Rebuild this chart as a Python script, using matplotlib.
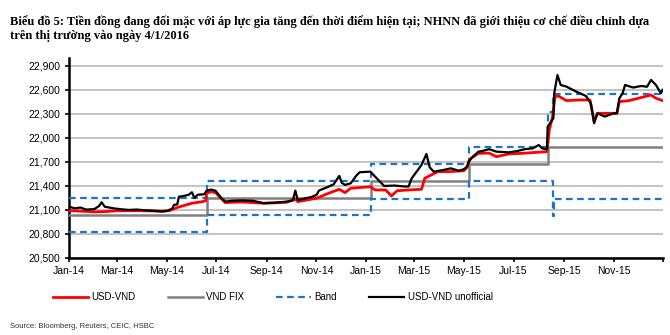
import pandas as pd
import matplotlib.pyplot as plt
from matplotlib.ticker import FuncFormatter

plt.rcParams["font.family"] = ["Liberation Sans", "DejaVu Sans"]

# 1: data

fix_dates = ['2014-01-01', '2014-06-19', '2015-01-07', '2015-05-07', '2015-08-12', '2015-12-31']
fix_values = [21036, 21246, 21458, 21673, 21890, 21890]

band_up_dates = ['2014-01-01', '2014-06-19', '2015-01-07', '2015-05-07', '2015-08-12', '2015-08-19', '2015-12-31']
band_up_values = [21246, 21458, 21673, 21890, 22328, 22547, 22547]

band_lo_dates = ['2014-01-01', '2014-06-19', '2015-01-07', '2015-05-07', '2015-08-19', '2015-08-20', '2015-12-31']
band_lo_values = [20826, 21034, 21243, 21456, 21030, 21233, 21233]

usd_vnd_dates = ['2014-01-01', '2014-01-15', '2014-02-01', '2014-02-15', '2014-03-01', '2014-04-01',
                 '2014-04-25', '2014-05-04', '2014-05-15', '2014-06-01', '2014-06-14', '2014-06-18',
                 '2014-06-19', '2014-06-25', '2014-06-30', '2014-07-12', '2014-08-01', '2014-08-28',
                 '2014-09-25', '2014-10-06', '2014-10-09', '2014-11-01', '2014-11-16', '2014-11-29',
                 '2014-12-06', '2014-12-13', '2015-01-06', '2015-01-12', '2015-01-25', '2015-02-01',
                 '2015-02-08', '2015-02-22', '2015-03-10', '2015-03-14', '2015-03-30', '2015-04-15',
                 '2015-05-01', '2015-05-05', '2015-05-08', '2015-05-19', '2015-06-01', '2015-06-10',
                 '2015-06-25', '2015-07-15', '2015-08-11', '2015-08-14', '2015-08-18', '2015-08-21',
                 '2015-08-25', '2015-09-04', '2015-09-20', '2015-10-03', '2015-10-08', '2015-10-12',
                 '2015-11-05', '2015-11-08', '2015-11-20', '2015-12-17', '2015-12-23', '2015-12-31']
usd_vnd_values = [21092, 21085, 21076, 21080, 21090, 21090,
                  21085, 21090, 21134, 21184, 21204, 21215,
                  21310, 21329, 21315, 21192, 21200, 21184,
                  21195, 21234, 21204, 21246, 21309, 21358,
                  21317, 21371, 21390, 21350, 21350, 21275,
                  21340, 21350, 21358, 21496, 21579, 21580,
                  21590, 21634, 21733, 21808, 21810, 21766,
                  21800, 21810, 21829, 22100, 22267, 22517,
                  22525, 22467, 22475, 22475, 22204, 22308,
                  22308, 22454, 22467, 22537, 22496, 22467]

unofficial_dates = ['2014-01-01', '2014-01-08', '2014-01-15', '2014-01-22', '2014-02-01', '2014-02-07',
                    '2014-02-10', '2014-02-14', '2014-02-25', '2014-03-05', '2014-03-15', '2014-03-25',
                    '2014-04-05', '2014-04-15', '2014-04-25', '2014-05-02', '2014-05-08', '2014-05-10',
                    '2014-05-14', '2014-05-16', '2014-05-22', '2014-05-28', '2014-06-01', '2014-06-04',
                    '2014-06-08', '2014-06-16', '2014-06-19', '2014-06-25', '2014-06-30', '2014-07-07',
                    '2014-07-12', '2014-07-20', '2014-08-01', '2014-08-15', '2014-08-28', '2014-09-10',
                    '2014-09-25', '2014-10-03', '2014-10-06', '2014-10-09', '2014-10-25', '2014-11-01',
                    '2014-11-04', '2014-11-16', '2014-11-22', '2014-11-29', '2014-12-02', '2014-12-06',
                    '2014-12-13', '2014-12-20', '2014-12-24', '2015-01-06', '2015-01-12', '2015-01-18',
                    '2015-01-23', '2015-02-05', '2015-02-15', '2015-02-22', '2015-02-26', '2015-03-04',
                    '2015-03-10', '2015-03-16', '2015-03-20', '2015-03-25', '2015-04-06', '2015-04-15',
                    '2015-04-25', '2015-05-01', '2015-05-05', '2015-05-07', '2015-05-12', '2015-05-19',
                    '2015-05-25', '2015-06-01', '2015-06-10', '2015-06-25', '2015-07-05', '2015-07-15',
                    '2015-07-25', '2015-08-01', '2015-08-05', '2015-08-11', '2015-08-12', '2015-08-19',
                    '2015-08-20', '2015-08-24', '2015-08-28', '2015-09-04', '2015-09-16', '2015-09-28',
                    '2015-10-04', '2015-10-07', '2015-10-08', '2015-10-12', '2015-10-21', '2015-11-01',
                    '2015-11-05', '2015-11-08', '2015-11-12', '2015-11-15', '2015-11-25', '2015-12-05',
                    '2015-12-12', '2015-12-17', '2015-12-23', '2015-12-29', '2015-12-31']
unofficial_values = [21141, 21120, 21130, 21105, 21110, 21150,
                     21196, 21140, 21120, 21110, 21100, 21105,
                     21095, 21090, 21080, 21090, 21120, 21163,
                     21170, 21266, 21275, 21290, 21321, 21250,
                     21290, 21296, 21340, 21355, 21340, 21250,
                     21204, 21215, 21220, 21215, 21184, 21190,
                     21204, 21220, 21342, 21225, 21259, 21288,
                     21342, 21392, 21420, 21525, 21440, 21413,
                     21433, 21530, 21571, 21579, 21516, 21454,
                     21400, 21405, 21395, 21392, 21496, 21579,
                     21662, 21800, 21634, 21579, 21600, 21620,
                     21590, 21610, 21642, 21704, 21766, 21829,
                     21840, 21860, 21829, 21820, 21835, 21860,
                     21871, 21912, 21870, 21858, 22142, 22246,
                     22558, 22787, 22662, 22642, 22579, 22525,
                     22433, 22250, 22183, 22308, 22267, 22308,
                     22308, 22496, 22558, 22662, 22630, 22650,
                     22640, 22725, 22662, 22558, 22600]

tick_dates = ['2014-01-01', '2014-03-01', '2014-05-01', '2014-07-01', '2014-09-01', '2014-11-01',
              '2015-01-01', '2015-03-01', '2015-05-01', '2015-07-01', '2015-09-01', '2015-11-01',
              '2016-01-01']
tick_labels = ['Jan-14', 'Mar-14', 'May-14', 'Jul-14', 'Sep-14', 'Nov-14',
               'Jan-15', 'Mar-15', 'May-15', 'Jul-15', 'Sep-15', 'Nov-15', '']
y_ticks = list(range(20500, 23000, 300))

# 2: draw

fig = plt.figure(figsize=(6.7, 3.35), dpi=100)
ax = fig.add_axes([0.103, 0.230, 0.887, 0.597])

band_style = dict(color='#1a75c9', linewidth=1.6, linestyle=(0, (3, 2)), drawstyle='steps-post')
ax.plot(pd.to_datetime(fix_dates), fix_values, color='#808080', linewidth=1.8,
        drawstyle='steps-post', label='VND FIX', zorder=3)
ax.plot(pd.to_datetime(band_up_dates), band_up_values, label='Band', zorder=4, **band_style)
ax.plot(pd.to_datetime(band_lo_dates), band_lo_values, zorder=4, **band_style)
ax.plot(pd.to_datetime(usd_vnd_dates), usd_vnd_values, color='#ff0000', linewidth=2.0,
        label='USD-VND', zorder=5)
ax.plot(pd.to_datetime(unofficial_dates), unofficial_values, color='black', linewidth=1.6,
        label='USD-VND unofficial', zorder=6)

ax.set_xlim(pd.Timestamp('2014-01-01'), pd.Timestamp('2016-01-01'))
ax.set_ylim(20500, 23000)
ax.set_yticks(y_ticks)
ax.yaxis.set_major_formatter(FuncFormatter(lambda v, p: f'{v:,.0f}'))
ax.set_xticks(pd.to_datetime(tick_dates))
ax.set_xticklabels(tick_labels)
ax.tick_params(labelsize=7.5, colors='black', length=3, width=1.2, pad=3)
ax.grid(axis='y', color='#c4c4c4', linewidth=1.5, zorder=0)
ax.set_axisbelow(True)
ax.spines['right'].set_visible(False)
ax.spines['top'].set_visible(False)
ax.spines['left'].set_linewidth(1.8)
ax.spines['bottom'].set_linewidth(1.8)

handles, labels = ax.get_legend_handles_labels()
order = [2, 0, 1, 3]
fig.legend([handles[i] for i in order], [labels[i] for i in order], loc='center left',
           bbox_to_anchor=(0.066, 0.112), ncol=4, frameon=False, fontsize=7,
           handlelength=3.6, columnspacing=3.3, handletextpad=0.35)

fig.text(0.015, 0.955, 'Biểu đồ 5: Tiền đồng đang đối mặc với áp lực gia tăng đến thời điểm hiện tại; '
         'NHNN đã giới thiệu cơ chế điều chỉnh dựa\ntrên thị trường vào ngày 4/1/2016',
         family=['Liberation Serif', 'DejaVu Serif'], weight='bold', fontsize=9,
         va='top', ha='left', linespacing=1.25)
fig.text(0.015, 0.025, 'Source: Bloomberg, Reuters, CEIC, HSBC', fontsize=5.5, color='#333333',
         ha='left', va='center')

plt.savefig('out.png', dpi=100)
plt.close()
